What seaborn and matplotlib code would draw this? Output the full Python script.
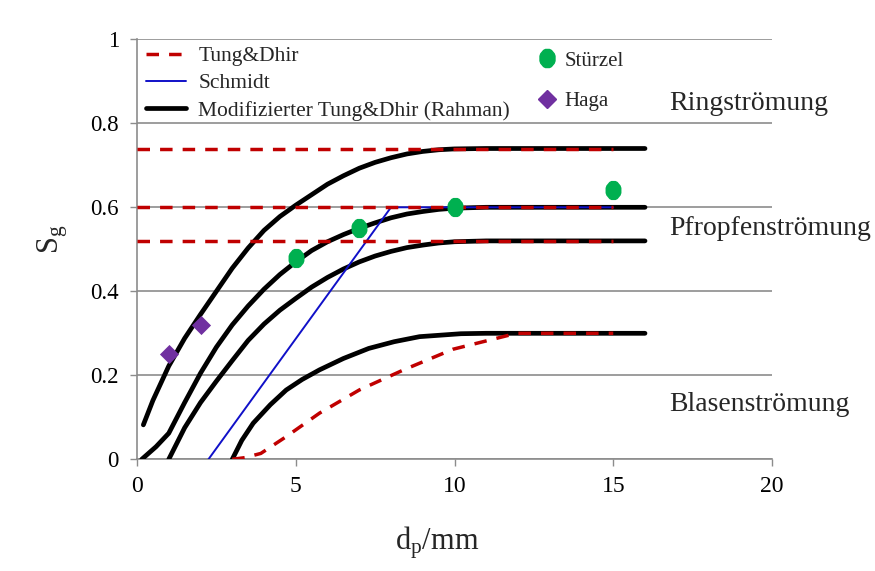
import matplotlib
matplotlib.use("Agg")
import matplotlib.pyplot as plt
from matplotlib.lines import Line2D
from matplotlib.path import Path
import seaborn as sns

# ---- Modifizierter Tung&Dhir (Rahman): four curves ----
rahman_074_x = [0.2, 0.5, 1.0, 1.5, 2.0, 2.5, 3.0, 3.5, 4.0, 4.5, 5.0, 5.5, 6.0,
                6.5, 7.0, 7.5, 8.0, 8.5, 9.0, 9.5, 10.0, 11.0, 16.0]
rahman_074_y = [0.082, 0.14, 0.222, 0.288, 0.345, 0.40, 0.455, 0.503, 0.545, 0.578,
                0.605, 0.630, 0.655, 0.675, 0.693, 0.707, 0.718, 0.727, 0.733,
                0.737, 0.739, 0.74, 0.74]

rahman_060_x = [0.15, 0.6, 1.0, 1.5, 2.0, 2.5, 3.0, 3.5, 4.0, 4.5, 5.0, 5.5, 6.0,
                6.5, 7.0, 7.5, 8.0, 8.5, 9.0, 9.5, 10.0, 11.0, 16.0]
rahman_060_y = [0.0, 0.03, 0.062, 0.135, 0.205, 0.267, 0.32, 0.365, 0.405, 0.44,
                0.47, 0.497, 0.518, 0.535, 0.55, 0.563, 0.575, 0.584, 0.59, 0.595,
                0.598, 0.6, 0.6]

rahman_052_x = [1.0, 1.5, 2.0, 2.5, 3.0, 3.5, 4.0, 4.5, 5.0, 5.5, 6.0, 6.5, 7.0,
                7.5, 8.0, 8.5, 9.0, 9.5, 10.0, 11.0, 16.0]
rahman_052_y = [0.0, 0.075, 0.135, 0.186, 0.235, 0.283, 0.322, 0.355, 0.383, 0.41,
                0.433, 0.453, 0.47, 0.484, 0.495, 0.504, 0.51, 0.515, 0.518, 0.52,
                0.52]

rahman_030_x = [3.0, 3.3, 3.66, 4.2, 4.7, 5.2, 5.75, 6.5, 7.3, 8.1, 8.9, 10.2, 11.0, 16.0]
rahman_030_y = [0.0, 0.045, 0.086, 0.13, 0.165, 0.19, 0.213, 0.24, 0.264, 0.28,
                0.292, 0.299, 0.3, 0.3]

# ---- Tung&Dhir: constant levels and the bubbly-flow curve ----
tung_levels = [0.74, 0.60, 0.52]
tung_level_x = [0.0, 15.0]
tung_curve_x = [3.0, 3.4, 3.9, 4.7, 5.75, 7.0, 8.4, 9.95, 10.9, 11.85, 12.0, 15.0]
tung_curve_y = [0.0, 0.004, 0.014, 0.054, 0.11, 0.165, 0.213, 0.262, 0.28, 0.298,
                0.3, 0.3]

# ---- Schmidt ----
schmidt_x = [2.25, 8.0, 15.0]
schmidt_y = [0.0, 0.6, 0.6]

# ---- Measurements ----
stuerzel_x = [5, 7, 10, 15]
stuerzel_y = [0.48, 0.55, 0.60, 0.64]
haga_x = [1, 2]
haga_y = [0.25, 0.32]

x_ticks = [0, 5, 10, 15, 20]
y_ticks = [0, 0.2, 0.4, 0.6, 0.8, 1.0]
y_tick_labels = ["0", "0.2", "0.4", "0.6", "0.8", "1"]
regimes = ["Ringströmung", "Pfropfenströmung", "Blasenströmung"]
regime_y = [0.847, 0.55, 0.13]
regime_x = 16.76

RED = "#c00000"
BLUE = "#1010c8"
GREEN = "#00b050"
PURPLE = "#7030a0"
GRID = "#8c8c8c"

sns.set_style("white")
plt.rcParams["font.family"] = ["Liberation Serif", "DejaVu Serif"]
plt.rcParams["mathtext.fontset"] = "custom"
plt.rcParams["mathtext.rm"] = "Liberation Serif"
plt.rcParams["mathtext.default"] = "regular"

fig = plt.figure(figsize=(8.75, 5.71), dpi=100)
ax = fig.add_axes([137 / 875, 1 - 459.3 / 571, 635 / 875, 420 / 571])

RED_LW = 2.5
dash = (0, (3.6, 2.9))

# black curves at the bottom of the stack
for xs, ys in [(rahman_074_x, rahman_074_y), (rahman_060_x, rahman_060_y),
               (rahman_052_x, rahman_052_y), (rahman_030_x, rahman_030_y)]:
    sns.lineplot(x=xs, y=ys, ax=ax, color="black", lw=3.4, estimator=None,
                 solid_capstyle="round", solid_joinstyle="round", zorder=3)

sns.lineplot(x=schmidt_x, y=schmidt_y, ax=ax, color=BLUE, lw=1.4,
             estimator=None, zorder=4)

for lvl in tung_levels:
    sns.lineplot(x=tung_level_x, y=[lvl, lvl], ax=ax, color=RED, lw=RED_LW,
                 linestyle=dash, estimator=None, zorder=5)
sns.lineplot(x=tung_curve_x, y=tung_curve_y, ax=ax, color=RED, lw=RED_LW,
             linestyle=dash, estimator=None, zorder=5)

ellipse = Path.unit_circle().vertices * [0.83, 1.0]
sns.scatterplot(x=stuerzel_x, y=stuerzel_y, ax=ax, color=GREEN, marker=ellipse,
                s=190, linewidth=0, zorder=6)
sns.scatterplot(x=haga_x, y=haga_y, ax=ax, color=PURPLE, marker="D",
                s=95, linewidth=0, zorder=6)

ax.set_xlim(0, 20)
ax.set_ylim(0, 1)
ax.set_xticks(x_ticks)
ax.set_yticks(y_ticks)
ax.set_yticklabels(y_tick_labels)
ax.grid(axis="y", color=GRID, lw=1.2)
ax.grid(axis="x", visible=False)
for side in ("top", "right"):
    ax.spines[side].set_visible(False)
for side in ("left", "bottom"):
    ax.spines[side].set_color(GRID)
    ax.spines[side].set_linewidth(1.2)
ax.tick_params(axis="both", which="major", direction="out", length=5,
               width=1.0, color=GRID, pad=8, labelcolor="black")
ax.tick_params(axis="x", labelsize=17, pad=7)
ax.tick_params(axis="y", labelsize=16.5)
ax.tick_params(left=True, bottom=True)

ax.set_xlabel("d$_p$/mm", fontsize=22)
ax.xaxis.set_label_coords(0.472, -0.155)
ax.set_ylabel("S$_g$", fontsize=22)
ax.yaxis.set_label_coords(-0.105, 0.525)

for name, yv in zip(regimes, regime_y):
    ax.text(regime_x, yv, name, fontsize=20, va="center", ha="left",
            clip_on=False)

# legends
model_handles = [
    Line2D([], [], color=RED, lw=RED_LW, linestyle=dash),
    Line2D([], [], color=BLUE, lw=1.4),
    Line2D([], [], color="black", lw=3.4),
]
model_labels = ["Tung&Dhir", "Schmidt", "Modifizierter Tung&Dhir (Rahman)"]
leg1 = ax.legend(model_handles, model_labels, loc="upper left",
                 bbox_to_anchor=(145.7 / 875, 1 - 46 / 571),
                 bbox_transform=fig.transFigure, frameon=False, fontsize=15.5,
                 handlelength=1.85, handletextpad=0.6, labelspacing=0.34,
                 borderpad=0, borderaxespad=0)
ax.add_artist(leg1)

data_handles = [
    Line2D([], [], color=GREEN, marker=ellipse, markersize=13, lw=0),
    Line2D([], [], color=PURPLE, marker="D", markersize=9.5, lw=0),
]
leg2 = ax.legend(data_handles, ["Stürzel", "Haga"], loc="upper left",
                 bbox_to_anchor=(537 / 875, 1 - 51 / 571),
                 bbox_transform=fig.transFigure, frameon=False, fontsize=15,
                 handlelength=1.0, handletextpad=0.32, labelspacing=1.02,
                 borderpad=0, borderaxespad=0)

fig.savefig("out.png", dpi=100)
